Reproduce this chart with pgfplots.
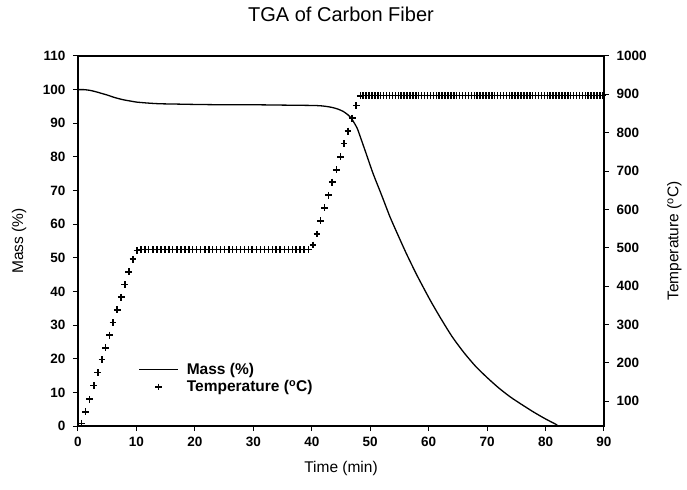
\documentclass[border=0pt]{standalone}
\usepackage{fontspec}
\setmainfont{Liberation Sans}
\usepackage{pgfplots}
\pgfplotsset{compat=1.18}
\begin{document}
\begin{tikzpicture}
\path[use as bounding box] (-78bp,-64bp) rectangle (609bp,426bp);
\begin{axis}[
  at={(0,0)}, anchor=south west, scale only axis,
  width=526bp, height=370bp,
  xmin=0, xmax=90, ymin=0, ymax=110,
  xtick={0,10,...,90}, ytick={0,10,...,110},
  xtick pos=left, ytick pos=left,
  axis line style={line width=1.2bp},
  tick style={line width=1bp, black}, tick align=outside, major tick length=5bp,
  ticklabel style={font=\fontsize{13.5bp}{16bp}\selectfont\bfseries},
  yticklabel style={xshift=-4bp},
  xticklabel style={yshift=-3bp},
  /pgf/number format/assume math mode=true,
  xlabel={Time (min)}, ylabel={Mass (\%)},
  label style={font=\fontsize{15.5bp}{18bp}\selectfont},
  xlabel style={at={(axis description cs:0.5,-0.127)}, anchor=base},
  ylabel style={at={(axis description cs:-0.112,0.5)}, anchor=center},
  title={TGA of Carbon Fiber},
  title style={at={(axis description cs:0.5,1.078)}, anchor=base, font=\fontsize{20bp}{24bp}\selectfont},
]
\addplot[black, line width=1.3bp, smooth, tension=0.4] coordinates {
(0,100) (1,100) (2,99.8) (3,99.4) (4,98.9) (5,98.4) (6,97.8) (7,97.3) (8,96.9) (9,96.6) (10,96.3)
(12,96.0) (14,95.8) (17,95.7) (20,95.6) (25,95.5) (30,95.5) (35,95.4) (40,95.3) (41.5,95.2)
(42.5,95.0) (43.5,94.7) (44.5,94.2) (45.4,93.5) (46.2,92.5) (46.8,91.4) (47.3,90.0) (47.8,88.4)
(48.5,85.0) (49.5,80.0) (50.5,75.0) (52,68.4) (53.4,62.1) (55,55.8) (56.2,51.2) (58,44.8)
(60.2,37.6) (62,32.2) (64,26.6) (66,21.9) (68,17.8) (70,14.4) (72,11.3) (74,8.6) (76,6.3)
(78,4.1) (80,2.1) (82,0.3)
};
\end{axis}
\begin{axis}[
  at={(0,0)}, anchor=south west, scale only axis,
  width=526bp, height=370bp,
  xmin=0, xmax=90, ymin=35, ymax=1000,
  axis x line=none, axis y line*=right,
  ytick={100,200,...,1000},
  axis line style={line width=1.2bp},
  tick style={line width=1bp, black}, tick align=outside, major tick length=5bp,
  ticklabel style={font=\fontsize{13.5bp}{16bp}\selectfont\bfseries},
  yticklabel style={xshift=4bp},
  /pgf/number format/assume math mode=true,
  /pgf/number format/1000 sep={},
  ylabel={Temperature (\textsuperscript{o}C)},
  label style={font=\fontsize{15.5bp}{18bp}\selectfont},
  ylabel style={at={(axis description cs:1.134,0.5)}, anchor=center},
  legend style={draw=none, fill=none, font=\fontsize{15.5bp}{19bp}\selectfont\bfseries,
    at={(axis description cs:0.109,0.182)}, anchor=north west, column sep=6bp, row sep=1bp},
  legend cell align=left,
  legend image code/.code={\draw[mark repeat=2,mark phase=2,#1] plot coordinates {(0bp,0bp) (19.5bp,0bp) (39bp,0bp)};},
]
\addlegendimage{black, line width=1.3bp}
\addlegendentry{Mass (\%)}
\addplot[only marks, mark=+, mark size=3.4bp, mark options={line width=1.5bp, black}] coordinates {
(0.6,42) (1.3,72) (2.0,105) (2.7,140) (3.4,174) (4.1,208) (4.7,239) (5.4,272) (6.0,305) (6.7,338)
(7.4,371) (8.0,404) (8.7,437) (9.4,470) (10.1,493)
(10.8,495) (11.5,495) (12.1,495) (12.8,495) (13.5,495) (14.2,495) (14.9,495) (15.6,495) (16.2,495)
(16.9,495) (17.6,495) (18.3,495) (19.0,495) (19.6,495) (20.3,495) (21.0,495) (21.7,495) (22.4,495)
(23.0,495) (23.7,495) (24.4,495) (25.1,495) (25.8,495) (26.4,495) (27.1,495) (27.8,495) (28.5,495)
(29.2,495) (29.8,495) (30.5,495) (31.2,495) (31.9,495) (32.6,495) (33.3,495) (33.9,495) (34.6,495)
(35.3,495) (36.0,495) (36.7,495) (37.3,495) (38.0,495) (38.7,495) (39.4,495)
(40.2,507) (40.9,536) (41.5,570) (42.2,604) (42.9,637) (43.5,671) (44.2,703) (44.9,737) (45.5,772)
(46.2,804) (46.9,838) (47.6,871) (48.3,896)
(48.8,897) (49.3,897) (49.8,897) (50.3,897) (50.8,897) (51.3,897) (51.8,897) (52.3,897) (52.8,897)
(53.3,897) (53.8,897) (54.3,897) (54.8,897) (55.3,897) (55.8,897) (56.3,897) (56.8,897) (57.3,897)
(57.8,897) (58.3,897) (58.8,897) (59.3,897) (59.8,897) (60.3,897) (60.8,897) (61.3,897) (61.8,897)
(62.3,897) (62.8,897) (63.3,897) (63.8,897) (64.3,897) (64.8,897) (65.3,897) (65.8,897) (66.3,897)
(66.8,897) (67.3,897) (67.8,897) (68.3,897) (68.8,897) (69.3,897) (69.8,897) (70.3,897) (70.8,897)
(71.3,897) (71.8,897) (72.3,897) (72.8,897) (73.3,897) (73.8,897) (74.3,897) (74.8,897) (75.3,897)
(75.8,897) (76.3,897) (76.8,897) (77.3,897) (77.8,897) (78.3,897) (78.8,897) (79.3,897) (79.8,897)
(80.3,897) (80.8,897) (81.3,897) (81.8,897) (82.3,897) (82.8,897) (83.3,897) (83.8,897) (84.3,897)
(84.8,897) (85.3,897) (85.8,897) (86.3,897) (86.8,897) (87.3,897) (87.8,897) (88.3,897) (88.8,897)
(89.3,897) (89.8,897)
};
\addlegendentry{Temperature (\textsuperscript{o}C)}
\end{axis}
\end{tikzpicture}
\end{document}
